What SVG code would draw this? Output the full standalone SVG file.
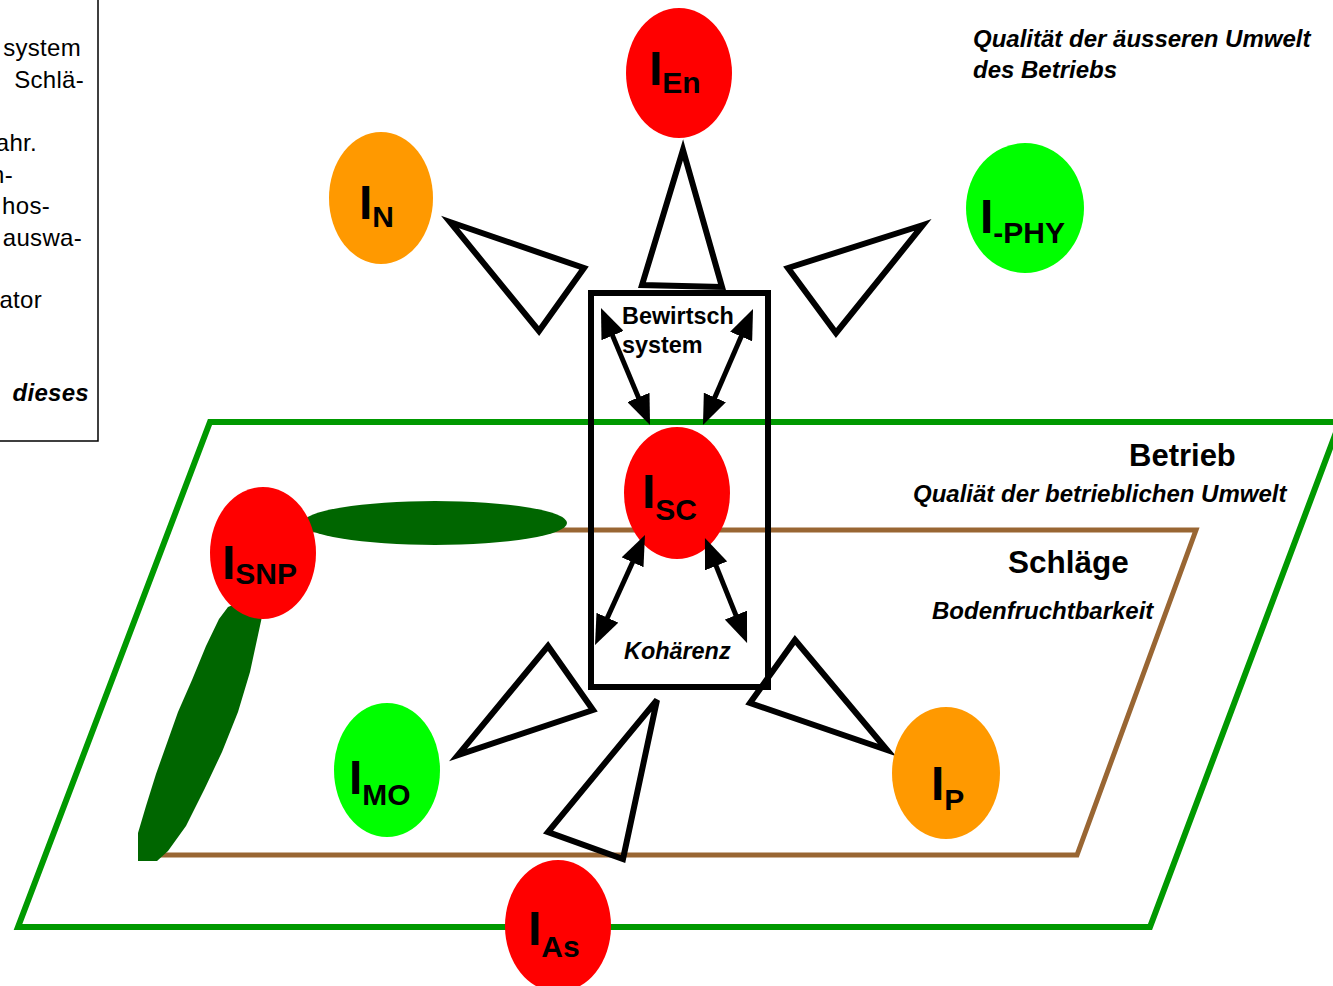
<svg xmlns="http://www.w3.org/2000/svg" width="1333" height="986" viewBox="0 0 1333 986">
  <style>
    .lbl { font-family: "Liberation Sans", Arial, sans-serif; fill: #000; }
    .b { font-weight: bold; }
    .bi { font-weight: bold; font-style: italic; }
    .note { font-size: 24px; }
    .idx { font-family: "Liberation Sans", Arial, sans-serif; font-weight: bold; font-size: 48px; fill: #000; }
    .idx tspan { font-size: 30px; }
    .tri { fill: none; stroke: #000; stroke-width: 6; stroke-linejoin: miter; }
    .arr { stroke: #000; stroke-width: 5; fill: none; marker-start: url(#head); marker-end: url(#head); }
    .red { fill: #FF0000; }
    .orange { fill: #FF9900; }
    .lime { fill: #00FF00; }
  </style>
  <defs>
    <marker id="head" markerUnits="userSpaceOnUse" markerWidth="30" markerHeight="24" refX="10" refY="12" orient="auto-start-reverse">
      <path d="M0,0 L30,12 L0,24 z" fill="#000"/>
    </marker>
  </defs>

  <rect width="1333" height="986" fill="#fff"/>

  <!-- side note box, cut by the left edge -->
  <g id="side-note">
    <path d="M98,0 V441 H0" fill="none" stroke="#000" stroke-width="1.5"/>
    <g class="lbl" font-size="24" letter-spacing="0.3" text-anchor="end">
      <text x="81" y="56">system</text>
      <text x="84" y="88">Schlä-</text>
      <text x="37" y="151">ahr.</text>
      <text x="13" y="183">n-</text>
      <text x="50" y="214">hos-</text>
      <text x="82" y="246">auswa-</text>
      <text x="42" y="308">ator</text>
      <text x="89" y="401" class="bi">dieses</text>
    </g>
  </g>

  <!-- farm level (Betrieb) -->
  <g id="betrieb">
    <polygon points="210,422 1340,422 1150,927 18,927" fill="none" stroke="#009900" stroke-width="6"/>
    <text class="lbl b" x="1129" y="466" font-size="31">Betrieb</text>
    <text class="lbl bi note" x="913" y="502">Qualiät der betrieblichen Umwelt</text>
  </g>

  <!-- field level (Schläge) -->
  <g id="schlaege">
    <polygon points="281,530 1196,530 1077,855 162,855" fill="none" stroke="#996633" stroke-width="5"/>
    <text class="lbl b" x="1008" y="573" font-size="31.5">Schläge</text>
    <text class="lbl bi note" x="932" y="619">Bodenfruchtbarkeit</text>
  </g>

  <!-- outer environment caption -->
  <g id="aussen">
    <text class="lbl bi note" x="973" y="47">Qualität der äusseren Umwelt</text>
    <text class="lbl bi note" x="973" y="78">des Betriebs</text>
  </g>

  <!-- landscape elements attached to I_SNP -->
  <g id="snp-strips" fill="#006600">
    <ellipse cx="435" cy="523" rx="132" ry="22"/>
    <path d="M228,607 L245,600 L263,612 L250,672 L238,712 L222,752 L205,788 L186,826 L168,851 L157,861 L138,861 L138,833 L146,806 L156,774 L167,743 L178,712 L192,680 L206,646 L219,619 Z"/>
  </g>

  <!-- management system box -->
  <g id="bewirtschaftung">
    <rect x="591" y="293" width="177" height="394" fill="none" stroke="#000" stroke-width="6"/>
    <text class="lbl b" x="622" y="324" font-size="23.4">Bewirtsch</text>
    <text class="lbl b" x="622" y="353" font-size="23.4">system</text>
    <text class="lbl bi" x="624" y="659" font-size="23.4">Kohärenz</text>
  </g>

  <!-- wedges pointing at the box -->
  <g id="connectors">
    <polygon class="tri" points="683,150 722,287 642,285"/>
    <polygon class="tri" points="450,222 584,268 539,331"/>
    <polygon class="tri" points="923,225 788,268 836,333"/>
    <polygon class="tri" points="548,646 593,710 458,755"/>
    <polygon class="tri" points="657,700 623,859 548,832" stroke-width="8"/>
    <polygon class="tri" points="795,640 887,750 750,703"/>
  </g>

  <!-- indicators -->
  <g id="I_En">
    <ellipse class="red" cx="679" cy="73" rx="53" ry="65"/>
    <text class="idx" x="649" y="85">I<tspan dy="8">En</tspan></text>
  </g>
  <g id="I_N">
    <ellipse class="orange" cx="381" cy="198" rx="52" ry="66"/>
    <text class="idx" x="359" y="219">I<tspan dy="8">N</tspan></text>
  </g>
  <g id="I_PHY">
    <ellipse class="lime" cx="1025" cy="208" rx="59" ry="65"/>
    <text class="idx" x="980" y="233">I<tspan dy="10">-PHY</tspan></text>
  </g>
  <g id="I_SC">
    <ellipse class="red" cx="677" cy="493" rx="53" ry="66"/>
    <text class="idx" x="642" y="508">I<tspan dy="12">SC</tspan></text>
  </g>
  <g id="I_SNP">
    <ellipse class="red" cx="263" cy="553" rx="53" ry="66"/>
    <text class="idx" x="222" y="579">I<tspan dy="5">SNP</tspan></text>
  </g>
  <g id="I_MO">
    <ellipse class="lime" cx="387" cy="770" rx="53" ry="67"/>
    <text class="idx" x="349" y="794">I<tspan dy="11">MO</tspan></text>
  </g>
  <g id="I_P">
    <ellipse class="orange" cx="946" cy="773" rx="54" ry="66"/>
    <text class="idx" x="931" y="800">I<tspan dy="10">P</tspan></text>
  </g>
  <g id="I_As">
    <ellipse class="red" cx="558" cy="926" rx="53" ry="66"/>
    <text class="idx" x="528" y="945">I<tspan dy="12">As</tspan></text>
  </g>

  <!-- double-headed coherence arrows around I_SC -->
  <g id="arrows">
    <line class="arr" x1="608.7" y1="326.4" x2="642.3" y2="406.6"/>
    <line class="arr" x1="745.1" y1="327.4" x2="710.9" y2="406.6"/>
    <line class="arr" x1="636.7" y1="553.2" x2="603.3" y2="626.8"/>
    <line class="arr" x1="712.4" y1="556.6" x2="739.6" y2="624.4"/>
  </g>
</svg>
